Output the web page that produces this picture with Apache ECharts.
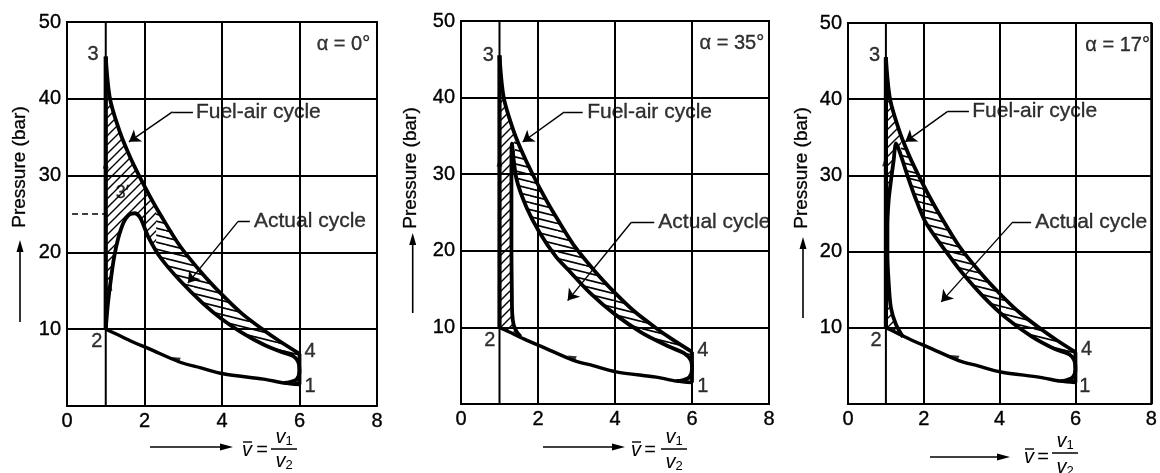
<!DOCTYPE html>
<html>
<head>
<meta charset="utf-8">
<script src="https://cdn.jsdelivr.net/npm/echarts@6/dist/echarts.min.js"></script>
<style>
html,body{margin:0;padding:0;background:#fff;}
#chart{width:1160px;height:473px;}
</style>
</head>
<body>
<div id="chart"></div>
<script>
// ---------------- DATA ----------------
const xTickValues = [0, 2, 4, 6, 8];
const yTickValues = [0, 10, 20, 30, 40, 50];
const alphaLabels = ['α = 0°', 'α = 35°', 'α = 17°'];
const annotationTexts = ['Fuel-air cycle', 'Actual cycle'];
const stateLabels = ['1', '2', '3', '4'];

// Fuel-air cycle (same in all three panels)
const fuelAirCombustion = [[1, 10], [1, 45.5]];
const fuelAirExpansion = [[1, 45.5], [1.11, 40], [1.37, 35.6], [1.63, 32.4], [1.88, 29.8], [2.14, 27.3],
  [2.4, 25.0], [2.92, 20.8], [3.5, 17.2], [4, 14.5], [4.5, 12.1], [5.07, 9.9], [5.5, 8.4], [6, 6.8]];
const fuelAirExhaust = [[6, 6.8], [6, 2.8]];
const compressionLine = [[6, 2.8], [5.6, 3.0], [5.07, 3.5], [4.03, 4.2], [3.43, 5.0], [2.92, 5.7],
  [2.14, 7.4], [1.63, 8.5], [1.3, 9.3], [1, 10]];

// Actual cycles
const actualAlpha0 = [[1, 10], [1.05, 13], [1.12, 16], [1.21, 19.2], [1.32, 21.8], [1.46, 23.9], [1.6, 24.9],
  [1.75, 25.1], [1.88, 24.6], [1.97, 23.6], [2.1, 22.0], [2.4, 19.4], [2.92, 16.3], [3.5, 13.4], [4, 11.3],
  [4.5, 9.6], [5.07, 8.0], [5.5, 7.1], [5.84, 6.5], [5.97, 5.7], [6.0, 4.6], [5.93, 3.5], [5.75, 3.1], [5.6, 3.0]];
const actualAlpha35 = [[1.55, 8.8], [1.45, 9.4], [1.37, 10.3], [1.33, 11.8], [1.32, 15], [1.31, 20], [1.31, 25],
  [1.31, 30], [1.32, 34.0], [1.44, 29.4], [1.7, 25.7], [2.04, 22.4], [2.47, 19.2], [2.77, 17.6], [3.35, 14.5],
  [4.0, 11.7], [4.7, 9.3], [5.4, 7.5], [5.8, 6.6], [5.97, 5.7], [6.0, 4.6], [5.93, 3.5], [5.75, 3.1], [5.6, 3.0]];
const actualAlpha17 = [[1.45, 8.8], [1.26, 10.5], [1.13, 12.7], [1.07, 16.2], [1.04, 19.7], [1.04, 23.2],
  [1.07, 26.6], [1.13, 29.2], [1.2, 31.8], [1.27, 34.2], [1.39, 32.7], [1.56, 30.1], [1.78, 27.0], [2.03, 24.0],
  [2.38, 21.4], [2.72, 19.1], [3.0, 17.3], [3.57, 14.1], [4.17, 11.3], [4.86, 8.8], [5.46, 7.2], [5.84, 6.5],
  [5.97, 5.7], [6.0, 4.6], [5.93, 3.5], [5.75, 3.1], [5.6, 3.0]];

// ---------------- LAYOUT (positions in data units / px) ----------------
const panels = [
  { grid: { left: 67, top: 22, width: 310, height: 384 }, actual: actualAlpha0, cut: 2.3,
    alphaPos: [7.85, 47.1],
    faLeader: [[3.25, 38.3], [2.72, 38.3], [1.6, 34.4]], faText: [3.3, 38.3],
    acLeader: [[4.72, 24.0], [4.41, 24.0], [3.12, 16.0]], acText: [4.8, 24.0],
    statePos: [[6.27, 2.5], [0.77, 8.4], [0.67, 45.8], [6.27, 7.1]],
    dashed: [[0.13, 25], [1, 25]], primeLabel: [1.43, 27.7],
    arrows: [[1, 31.5, 0], [2.8, 6.15, 67], [1.11, 15.6, -8]],
    yTitle: [20, 167], yArrow: [20, 322, 240],
    xArrow: [150, 233, 447], vbar: [247, 450], eq: [262, 450], frac: [284, 437, 449, 461] },
  { grid: { left: 461, top: 21, width: 308, height: 383 }, actual: actualAlpha35, cut: 1.4,
    alphaPos: [7.9, 47.1],
    faLeader: [[3.16, 38.1], [2.68, 38.1], [1.6, 34.2]], faText: [3.25, 38.1],
    acLeader: [[5.02, 23.7], [4.42, 23.7], [2.77, 13.5]], acText: [5.1, 23.7],
    statePos: [[6.28, 2.3], [0.75, 8.3], [0.71, 45.5], [6.28, 7.0]],
    dashed: null, primeLabel: null,
    arrows: [[1, 31.6, 0], [2.87, 6.1, 67]],
    yTitle: [411, 168], yArrow: [412.7, 313, 233],
    xArrow: [543, 625, 447], vbar: [636, 450], eq: [650, 450], frac: [674, 437, 449, 462] },
  { grid: { left: 848, top: 23, width: 310, height: 381 }, actual: actualAlpha17, cut: 1.4,
    alphaPos: [7.99, 47.0],
    faLeader: [[3.19, 38.4], [2.63, 38.4], [1.51, 34.4]], faText: [3.25, 38.4],
    acLeader: [[4.83, 23.9], [4.35, 23.9], [2.46, 13.4]], acText: [4.91, 23.9],
    statePos: [[6.25, 2.3], [0.74, 8.4], [0.70, 45.8], [6.29, 7.1]],
    dashed: null, primeLabel: null,
    arrows: [[0.98, 31.8, 0], [2.8, 6.2, 67]],
    yTitle: [802, 168], yArrow: [803, 318, 237],
    xArrow: [930, 1010, 457], vbar: [1029, 457], eq: [1043, 457], frac: [1065, 441, 453, 467] }
];

const INK = '#000';
const FONT = '"Liberation Sans", Arial, Helvetica, sans-serif';
const TXT = { color: INK, fontFamily: FONT, textBorderColor: INK, textBorderWidth: 0.35 };

// ---------------- HELPERS ----------------
function makeHatch(kind) {
  const c = document.createElement('canvas');
  const g = c.getContext('2d');
  if (kind === '/') {
    c.width = 9; c.height = 9;
    g.strokeStyle = '#000'; g.lineWidth = 1.4; g.beginPath();
    g.moveTo(-1, 10); g.lineTo(10, -1);
    g.moveTo(-1, 1); g.lineTo(1, -1);
    g.moveTo(8, 10); g.lineTo(10, 8);
    g.stroke();
  } else {
    c.width = 28; c.height = 7;
    g.strokeStyle = '#000'; g.lineWidth = 1.7; g.beginPath();
    for (let k = -1; k <= 1; k++) {
      g.moveTo(-2 + k * 28, -0.43); g.lineTo(30 + k * 28, 7.57);
    }
    g.stroke();
  }
  return c;
}
const hatchSlash = { image: makeHatch('/'), repeat: 'repeat' };
const hatchBand = { image: makeHatch('\\'), repeat: 'repeat' };

function clipX(poly, c, keepLeft) {
  const out = [];
  const inside = p => keepLeft ? p[0] <= c : p[0] >= c;
  for (let i = 0; i < poly.length; i++) {
    const A = poly[i], B = poly[(i + 1) % poly.length];
    const ia = inside(A), ib = inside(B);
    if (ia) out.push(A);
    if (ia !== ib) {
      const t = (c - A[0]) / (B[0] - A[0]);
      out.push([c, A[1] + t * (B[1] - A[1])]);
    }
  }
  return out;
}

function hatchPolygon(actual) {
  const start = actual[0];
  return [].concat(fuelAirCombustion, fuelAirExpansion.slice(1), fuelAirExhaust.slice(1),
    actual.slice().reverse(), compressionLine.filter(p => p[0] < start[0] - 1e-6));
}

// ---------------- OPTION ----------------
const grids = [], xAxes = [], yAxes = [], series = [], graphic = [];

panels.forEach((p, i) => {
  grids.push(Object.assign({ show: true, borderColor: INK, borderWidth: 2, containLabel: false }, p.grid));
  xAxes.push({
    type: 'value', gridIndex: i, min: xTickValues[0], max: xTickValues[xTickValues.length - 1], interval: 2,
    axisLine: { show: true, lineStyle: { color: INK, width: 2 } },
    axisTick: { show: false },
    axisLabel: Object.assign({ fontSize: 20, margin: 5 }, TXT),
    splitLine: { show: true, lineStyle: { color: INK, width: 2 } }
  });
  yAxes.push({
    type: 'value', gridIndex: i, min: yTickValues[0], max: yTickValues[yTickValues.length - 1], interval: 10,
    axisLine: { show: true, lineStyle: { color: INK, width: 2 } },
    axisTick: { show: false },
    axisLabel: Object.assign({ fontSize: 20, margin: 6, formatter: v => (v === 0 ? '' : String(v)) }, TXT),
    splitLine: { show: true, lineStyle: { color: INK, width: 2 } }
  });

  const ax = { xAxisIndex: i, yAxisIndex: i };
  const lineBase = Object.assign({ type: 'line', symbol: 'none', silent: true, animation: false }, ax);

  // extra grid line at v = 1
  series.push(Object.assign({}, lineBase, { data: [[1, 0], [1, 50]], lineStyle: { color: INK, width: 2 }, z: 1 }));

  // hatch
  const poly = hatchPolygon(p.actual);
  [[clipX(poly, p.cut, true), hatchSlash], [clipX(poly, p.cut, false), hatchBand]].forEach(([pts, fill]) => {
    series.push(Object.assign({
      type: 'custom', silent: true, animation: false, clip: true, z: 2,
      data: [[0, 0]],
      renderItem: (params, api) => ({
        type: 'polygon',
        shape: { points: pts.map(q => api.coord(q)) },
        style: { fill: fill, stroke: null }
      })
    }, ax));
  });

  // fuel-air cycle and compression
  series.push(Object.assign({}, lineBase, { data: fuelAirCombustion, lineStyle: { color: INK, width: 4.2 }, z: 5 }));
  series.push(Object.assign({}, lineBase, { data: fuelAirExpansion, smooth: 0.3, lineStyle: { color: INK, width: 3.8 }, z: 5 }));
  series.push(Object.assign({}, lineBase, { data: fuelAirExhaust, lineStyle: { color: INK, width: 3.8 }, z: 5 }));
  series.push(Object.assign({}, lineBase, { data: compressionLine, smooth: 0.3, lineStyle: { color: INK, width: 3.4 }, z: 5 }));
  // actual cycle
  series.push(Object.assign({}, lineBase, { data: p.actual, smooth: 0.3, lineStyle: { color: INK, width: 3.8 }, z: 5 }));

  // dashed line (panel 1)
  if (p.dashed) {
    series.push(Object.assign({}, lineBase, { data: p.dashed, lineStyle: { color: INK, width: 1.3, type: [6, 4] }, z: 4 }));
  }

  // leader lines
  [p.faLeader, p.acLeader].forEach(ld => {
    series.push(Object.assign({
      type: 'lines', coordinateSystem: 'cartesian2d', silent: true, animation: false, z: 6,
      symbol: ['none', 'none'],
      lineStyle: { color: INK, width: 1.4, opacity: 1 },
      data: [{ coords: [ld[0], ld[1]] }]
    }, ax));
    series.push(Object.assign({
      type: 'lines', coordinateSystem: 'cartesian2d', silent: true, animation: false, z: 6,
      symbol: ['none', 'arrow'], symbolSize: [7, 11],
      lineStyle: { color: INK, width: 1.4, opacity: 1 },
      data: [{ coords: [ld[1], ld[2]] }]
    }, ax));
  });

  // direction arrows on curves
  series.push(Object.assign({
    type: 'scatter', silent: true, animation: false, z: 7,
    symbol: 'triangle', symbolSize: [6, 9],
    itemStyle: { color: INK },
    data: p.arrows.map(a => ({ value: [a[0], a[1]], symbolRotate: a[2] }))
  }, ax));

  // text labels
  const textItems = [];
  textItems.push({ value: p.faText, name: annotationTexts[0], label: { position: 'right', distance: 1, fontSize: 21 } });
  textItems.push({ value: p.acText, name: annotationTexts[1], label: { position: 'right', distance: 1, fontSize: 21 } });
  textItems.push({ value: p.alphaPos, name: alphaLabels[i], label: { position: 'left', distance: 1, fontSize: 20 } });
  stateLabels.forEach((s, k) => {
    textItems.push({ value: p.statePos[k], name: s, label: { position: 'inside', fontSize: 20 } });
  });
  if (p.primeLabel) {
    textItems.push({ value: p.primeLabel, name: '3\u2032', label: { position: 'inside', fontSize: 18 } });
  }
  series.push(Object.assign({
    type: 'scatter', silent: true, animation: false, z: 8, clip: false,
    symbolSize: 0.01,
    itemStyle: { color: 'transparent' },
    label: Object.assign({ show: true, formatter: '{b}' }, TXT),
    data: textItems
  }, ax));

  // ---- axis titles (graphic) ----
  graphic.push({
    type: 'text', x: p.yTitle[0], y: p.yTitle[1], rotation: Math.PI / 2, silent: true,
    style: { text: 'Pressure (bar)', fill: INK, stroke: INK, lineWidth: 0.3, font: '19px ' + FONT, align: 'center', verticalAlign: 'middle' }
  });
  const ya = p.yArrow;
  graphic.push({ type: 'line', silent: true, shape: { x1: ya[0], y1: ya[1], x2: ya[0], y2: ya[2] + 8 }, style: { stroke: INK, lineWidth: 1.6 } });
  graphic.push({ type: 'polygon', silent: true, shape: { points: [[ya[0], ya[2]], [ya[0] - 3.5, ya[2] + 12], [ya[0] + 3.5, ya[2] + 12]] }, style: { fill: INK } });
  const xa = p.xArrow;
  graphic.push({ type: 'line', silent: true, shape: { x1: xa[0], y1: xa[2], x2: xa[1] - 8, y2: xa[2] }, style: { stroke: INK, lineWidth: 1.6 } });
  graphic.push({ type: 'polygon', silent: true, shape: { points: [[xa[1], xa[2]], [xa[1] - 13, xa[2] - 3.5], [xa[1] - 13, xa[2] + 3.5]] }, style: { fill: INK } });
  graphic.push({ type: 'text', x: p.vbar[0], y: p.vbar[1], silent: true,
    style: { text: 'v', fill: INK, font: 'italic 20px ' + FONT, align: 'center', verticalAlign: 'middle' } });
  graphic.push({ type: 'line', silent: true, shape: { x1: p.vbar[0] - 4, y1: p.vbar[1] - 8, x2: p.vbar[0] + 5, y2: p.vbar[1] - 8 }, style: { stroke: INK, lineWidth: 1.4 } });
  graphic.push({ type: 'text', x: p.eq[0], y: p.eq[1], silent: true,
    style: { text: '=', fill: INK, font: '20px ' + FONT, align: 'center', verticalAlign: 'middle' } });
  const f = p.frac;
  ['1', '2'].forEach((d, k) => {
    graphic.push({ type: 'text', x: f[0], y: k === 0 ? f[1] : f[3], silent: true,
      style: { text: '{v|v}{s|' + d + '}', fill: INK, align: 'center', verticalAlign: 'middle',
        rich: { v: { font: 'italic 20px ' + FONT, fill: INK }, s: { font: '13px ' + FONT, fill: INK, padding: [8, 0, 0, 0] } } } });
  });
  graphic.push({ type: 'line', silent: true, shape: { x1: f[0] - 13, y1: f[2], x2: f[0] + 13, y2: f[2] }, style: { stroke: INK, lineWidth: 1.5 } });
});

const chart = echarts.init(document.getElementById('chart'), null, { renderer: 'canvas' });
chart.setOption({
  animation: false,
  backgroundColor: '#fff',
  textStyle: { fontFamily: FONT },
  grid: grids,
  xAxis: xAxes,
  yAxis: yAxes,
  series: series,
  graphic: graphic
});
</script>
</body>
</html>
